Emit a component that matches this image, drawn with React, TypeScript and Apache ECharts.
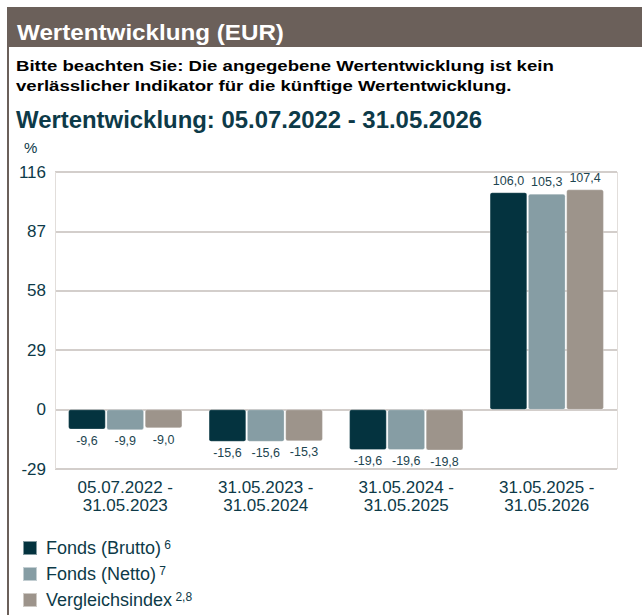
import React, { useEffect, useRef } from "react";
import * as echarts from "echarts";

const categories = ["05.07.2022 -\n31.05.2023", "31.05.2023 -\n31.05.2024", "31.05.2024 -\n31.05.2025", "31.05.2025 -\n31.05.2026"];
const brutto = [-9.6, -15.6, -19.6, 106.0];
const netto = [-9.9, -15.6, -19.6, 105.3];
const vergleich = [-9.0, -15.3, -19.8, 107.4];
const seriesNames = ["Fonds (Brutto)", "Fonds (Netto)", "Vergleichsindex"];
const seriesNotes = ["6", "7", "2,8"];
const colors = ["#04333f", "#869da4", "#9d948b"];
const yMin = -29;
const yMax = 116;
const yStep = 29;

const TEAL = "#0d3a48";
const FONT = "Liberation Sans, Arial, sans-serif";

export default function App() {
  const ref = useRef<HTMLDivElement>(null);
  useEffect(() => {
    document.body.style.margin = "0";
    const chart = echarts.init(ref.current!, null, { renderer: "svg" });
    const mk = (name: string, data: number[], color: string) => ({
      name,
      type: "bar",
      data: data.map((v) => ({
        value: v,
        label: { position: v >= 0 ? "top" : "bottom" },
      })),
      barGap: "3%",
      barCategoryGap: "19%",
      itemStyle: { color, borderRadius: 2, borderColor: "rgba(255,255,255,0.5)", borderWidth: 0.5 },
      label: {
        show: true,
        distance: 5,
        color: "#1d4550",
        fontSize: 12.5,
        fontFamily: FONT,
        formatter: (p: any) => p.value.toFixed(1).replace(".", ","),
      },
    });
    const noteMap: Record<string, string> = {};
    seriesNames.forEach((n, i) => (noteMap[n] = seriesNotes[i]));
    chart.setOption({
      animation: false,
      textStyle: { fontFamily: FONT },
      graphic: [
        { type: "rect", shape: { x: 7, y: 7, width: 635, height: 40 }, style: { fill: "#6b605a" } },
        { type: "rect", shape: { x: 7, y: 7, width: 2, height: 608 }, style: { fill: "#6b605a" } },
        {
          type: "text",
          x: 17,
          y: 32,
          scaleX: 1.1,
          style: { text: "Wertentwicklung (EUR)", fill: "#ffffff", font: `bold 22px ${FONT}`, verticalAlign: "middle" },
        },
        {
          type: "text",
          x: 16,
          y: 66,
          scaleX: 1.2,
          style: { text: "Bitte beachten Sie: Die angegebene Wertentwicklung ist kein", fill: "#000000", font: `bold 15.5px ${FONT}`, verticalAlign: "middle" },
        },
        {
          type: "text",
          x: 16,
          y: 86,
          scaleX: 1.2,
          style: { text: "verlässlicher Indikator für die künftige Wertentwicklung.", fill: "#000000", font: `bold 15.5px ${FONT}`, verticalAlign: "middle" },
        },
        {
          type: "text",
          x: 16,
          y: 120,
          scaleX: 1.04,
          style: { text: "Wertentwicklung: 05.07.2022 - 31.05.2026", fill: TEAL, font: `bold 23px ${FONT}`, verticalAlign: "middle" },
        },
        {
          type: "text",
          x: 24,
          y: 147,
          style: { text: "%", fill: TEAL, font: `15px ${FONT}`, verticalAlign: "middle" },
        },
      ],
      grid: { left: 55, right: 25, top: 172, bottom: 146 },
      xAxis: {
        type: "category",
        data: categories,
        axisLine: { show: false },
        axisTick: { show: false },
        axisLabel: { color: TEAL, fontSize: 17, lineHeight: 18, margin: 9, fontFamily: FONT },
        splitLine: {
          show: true,
          interval: (i: number) => i === 1,
          lineStyle: { color: "#e2dedb", width: 1 },
        },
      },
      yAxis: {
        type: "value",
        min: yMin,
        max: yMax,
        interval: yStep,
        axisLabel: { color: TEAL, fontSize: 17, margin: 9, fontFamily: FONT },
        splitLine: { lineStyle: { color: "#d3cecb", width: 2 } },
        axisLine: { show: false },
        axisTick: { show: false },
      },
      legend: {
        orient: "vertical",
        left: 22,
        top: 539,
        padding: 0,
        itemWidth: 14,
        itemHeight: 14,
        itemGap: 8,
        icon: "rect",
        data: seriesNames,
        formatter: (n: string) => `{n|${n}} {s|${noteMap[n]}}`,
        textStyle: {
          padding: [0, 0, 0, 4],
          rich: {
            n: { fontSize: 18, color: TEAL, fontFamily: FONT, lineHeight: 18 },
            s: { fontSize: 12, color: TEAL, fontFamily: FONT, verticalAlign: "top", lineHeight: 18 },
          },
        },
      },
      series: [mk(seriesNames[0], brutto, colors[0]), mk(seriesNames[1], netto, colors[1]), mk(seriesNames[2], vergleich, colors[2])],
    });
    return () => chart.dispose();
  }, []);
  return <div ref={ref} style={{ position: "absolute", left: 0, top: 0, width: 642, height: 615 }} />;
}
